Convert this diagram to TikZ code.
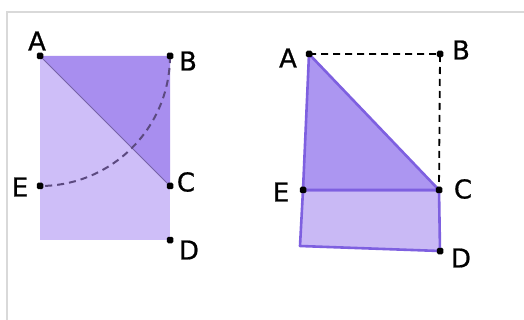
\documentclass[tikz,border=0pt]{standalone}
\usepackage{fontspec}
\setmainfont{DejaVu Sans}
\newfontfamily\lblfont{DejaVu Sans}[FakeBold=0.8]
\begin{document}
\begin{tikzpicture}[x=1pt,y=-1pt,
  lbl/.style={font=\lblfont\fontsize{26}{26}\selectfont, inner sep=0pt},
  pt/.style={fill=black, minimum size=6.5pt, inner sep=0pt, rectangle, rounded corners=1.5pt},
  edgeline/.style={draw=purpEdge, line width=2.6pt, line join=round},
  frameline/.style={draw=frameGray, line width=2.5pt}]
\definecolor{lightP}{HTML}{CEBEF8}
\definecolor{darkP}{HTML}{A88EEF}
\definecolor{triP}{HTML}{AC96F1}
\definecolor{rectP}{HTML}{C9B9F5}
\definecolor{purpEdge}{HTML}{7E60E0}
\definecolor{frameGray}{HTML}{D9D9D9}
\definecolor{arcC}{HTML}{5C4A80}
\useasboundingbox (0,0) rectangle (524,320);
\fill[white] (0,0) rectangle (524,320);
% frame
\coordinate (f1) at (7,320);
\coordinate (f2) at (7,12);
\coordinate (f3) at (524,12);
\draw[frameline] (f1) -- (f2) -- (f3);
% ---------- left figure ----------
\coordinate (lA) at (40,56);
\coordinate (lB) at (170,56);
\coordinate (lC) at (170,186);
\coordinate (lE) at (40,186);
\coordinate (lD) at (170,240);
\fill[lightP] (lA) rectangle (lD);
\fill[darkP] (lA) -- (lB) -- (lC) -- cycle;
\draw[darkP!70!black, line width=0.8pt] (lA) -- (lC);
\draw[arcC, line width=2pt, dash pattern=on 7pt off 5pt] (lB) arc[start angle=0, end angle=90, radius=130];
\node[pt] at (lA) {};
\node[pt] at (lB) {};
\node[pt] at (lC) {};
\node[pt] at (lE) {};
\node[pt] at (lD) {};
\node[lbl] (tA) at (37,41) {A};
\node[lbl] (tB) at (188,61) {B};
\node[lbl] (tC) at (186,182) {C};
\node[lbl] (tE) at (20,187) {E};
\node[lbl] (tD) at (189,250) {D};
% ---------- right figure ----------
\coordinate (rA) at (309,54);
\coordinate (rB) at (440,54);
\coordinate (rC) at (439,190);
\coordinate (rE) at (303,190);
\coordinate (rD) at (440,251);
\coordinate (rF) at (300,246);
\filldraw[fill=rectP, edgeline] (rE) -- (rC) -- (rD) -- (rF) -- cycle;
\filldraw[fill=triP, edgeline] (rA) -- (rC) -- (rE) -- cycle;
\draw[black, line width=1.8pt, dash pattern=on 7pt off 5pt] (rA) -- (rB) -- (rC);
\node[pt] at (rA) {};
\node[pt] at (rB) {};
\node[pt] at (rC) {};
\node[pt] at (rE) {};
\node[pt] at (rD) {};
\node[lbl] (uA) at (288,58) {A};
\node[lbl] (uB) at (461,50) {B};
\node[lbl] (uC) at (463,189) {C};
\node[lbl] (uE) at (281,192) {E};
\node[lbl] (uD) at (461,258) {D};
\end{tikzpicture}
\end{document}
